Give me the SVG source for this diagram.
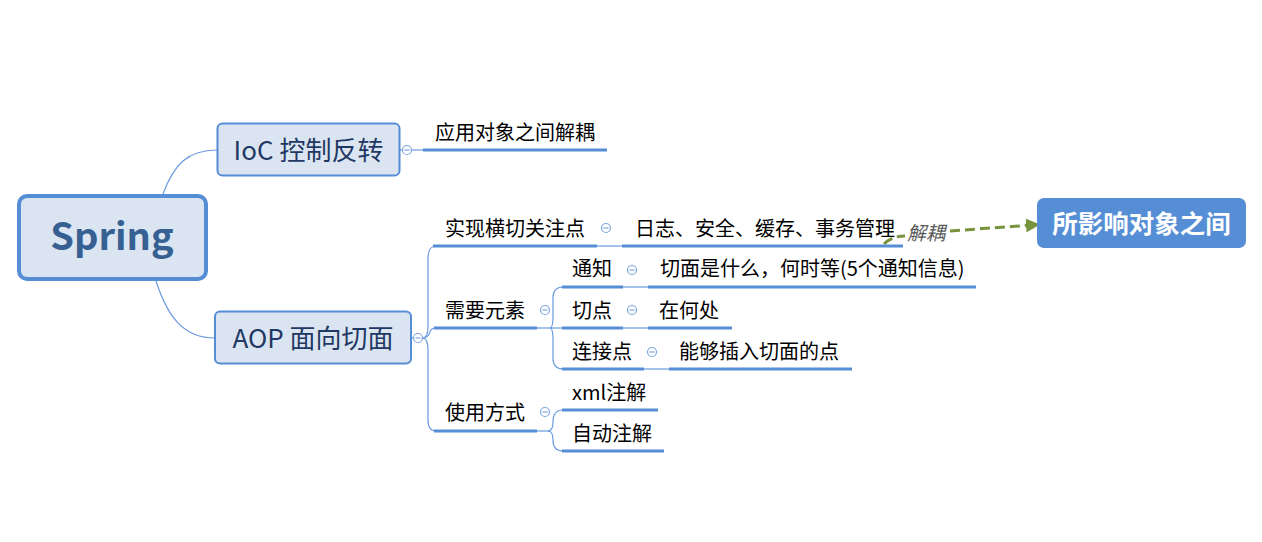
<svg xmlns="http://www.w3.org/2000/svg" width="1262" height="542" viewBox="0 0 1262 542">
<defs>
<style>
.t{font-family:"Noto Sans CJK SC","Liberation Sans",sans-serif;font-size:20px;fill:#000}
.ul{stroke:#558ed5;stroke-width:3;fill:none}
.ln{stroke:#6a9ae0;stroke-width:1.2;fill:none}
.col{fill:#fff;stroke:#7ea6e0;stroke-width:1.2}
.colm{stroke:#7ea6e0;stroke-width:1.2}
.box{fill:#dbe5f1;stroke:#558ed5}
.bt{font-family:"Noto Sans CJK SC","Liberation Sans",sans-serif;font-size:26px;fill:#1f3864;text-anchor:middle}
</style>
<marker id="ah" viewBox="0 0 14 14" refX="13" refY="7" markerWidth="14" markerHeight="14" markerUnits="userSpaceOnUse" orient="auto">
<path d="M0,0 L14,7 L0,14 Z" fill="#77933c"/>
</marker>
<g id="collapse">
<circle cx="0" cy="0" r="4.5" class="col"/>
<line x1="-2.5" y1="0" x2="2.5" y2="0" class="colm"/>
</g>
</defs>
<rect width="1262" height="542" fill="#fff"/>

<g id="connectors">
<path class="ln" d="M163,194 C174,164 188,150 217,150"/>
<path class="ln" d="M156,281 C168,318 184,338 215,338"/>
<path class="ln" d="M400,150 L402.5,150"/>
<path class="ln" d="M411.5,150 L423,150"/>
<path class="ln" d="M411,338 L413.5,338"/>
<path class="ln" d="M422.5,338 Q428,338 428,326 L428,258 Q428,246 436,246"/>
<path class="ln" d="M422.5,338 Q428,338 430,332 Q431,328 436,328"/>
<path class="ln" d="M422.5,338 Q428,338 428,350 L428,420 Q428,431 436,431"/>
<path class="ln" d="M597,246 L622,246"/>
<path class="ln" d="M537,328 L562,328"/>
<path class="ln" d="M550,328 Q553,328 553,316 L553,298 Q553,287 563,287"/>
<path class="ln" d="M550,328 Q553,328 553,340 L553,358 Q553,369 563,369"/>
<path class="ln" d="M537,431 L550,431"/>
<path class="ln" d="M548,431 Q553,431 553,422 Q553,410 563,410"/>
<path class="ln" d="M548,431 Q553,431 553,440 Q553,451 563,451"/>
<path class="ln" d="M623,287 L648,287"/>
<path class="ln" d="M623,328 L648,328"/>
<path class="ln" d="M644,369 L669,369"/>
<path d="M884,244 Q892,236 905,236" fill="none" stroke="#77933c" stroke-width="3" stroke-dasharray="10,5"/>
<path d="M950,231 L1039,224.5" fill="none" stroke="#77933c" stroke-width="3" stroke-dasharray="10,5" marker-end="url(#ah)"/>
<text x="907" y="240" font-family="Noto Sans CJK SC,Liberation Sans,sans-serif" font-size="19" font-style="italic" fill="#595959">解耦</text>
</g>

<g id="spring">
<rect x="19" y="196" width="187" height="83" rx="8" class="box" stroke-width="4"/>
<text x="112" y="250" font-family="Noto Sans CJK SC,Liberation Sans,sans-serif" font-size="38" font-weight="bold" fill="#376092" text-anchor="middle">Spring</text>
</g>

<g id="ioc">
<rect x="217.5" y="123.5" width="182" height="52" rx="5" class="box" stroke-width="2"/>
<text x="308.5" y="160" class="bt">IoC 控制反转</text>
<use href="#collapse" x="407" y="150"/>
</g>

<g id="aop">
<rect x="215" y="311.5" width="196" height="52" rx="5" class="box" stroke-width="2"/>
<text x="313" y="348" class="bt">AOP 面向切面</text>
<use href="#collapse" x="418" y="338"/>
</g>

<g id="decouple">
<line x1="423" y1="150" x2="607" y2="150" class="ul"/>
<text x="435" y="140" class="t">应用对象之间解耦</text>
</g>

<g id="crosscut">
<line x1="433" y1="246" x2="597" y2="246" class="ul"/>
<text x="445" y="236" class="t">实现横切关注点</text>
<use href="#collapse" x="606" y="228"/>
</g>

<g id="crosscut-items">
<line x1="622" y1="246" x2="903" y2="246" class="ul"/>
<text x="635" y="236" class="t">日志、安全、缓存、事务管理</text>
</g>

<g id="elements">
<line x1="434" y1="328" x2="537" y2="328" class="ul"/>
<text x="445" y="317.5" class="t">需要元素</text>
<use href="#collapse" x="545" y="310"/>
</g>

<g id="advice">
<line x1="562" y1="287" x2="623" y2="287" class="ul"/>
<text x="572" y="276" class="t">通知</text>
<use href="#collapse" x="632" y="270"/>
</g>
<g id="advice-desc">
<line x1="648" y1="287" x2="976" y2="287" class="ul"/>
<text x="660" y="276" class="t">切面是什么，何时等(5个通知信息)</text>
</g>

<g id="pointcut">
<line x1="562" y1="328" x2="623" y2="328" class="ul"/>
<text x="572" y="317.5" class="t">切点</text>
<use href="#collapse" x="632" y="310"/>
</g>
<g id="pointcut-desc">
<line x1="648" y1="328" x2="732" y2="328" class="ul"/>
<text x="659" y="317.5" class="t">在何处</text>
</g>

<g id="joinpoint">
<line x1="562" y1="369" x2="644" y2="369" class="ul"/>
<text x="572" y="358.5" class="t">连接点</text>
<use href="#collapse" x="652" y="352"/>
</g>
<g id="joinpoint-desc">
<line x1="669" y1="369" x2="852" y2="369" class="ul"/>
<text x="679" y="358.5" class="t">能够插入切面的点</text>
</g>

<g id="usage">
<line x1="434" y1="431" x2="537" y2="431" class="ul"/>
<text x="445" y="420" class="t">使用方式</text>
<use href="#collapse" x="545" y="412"/>
</g>

<g id="xml">
<line x1="562" y1="410" x2="658" y2="410" class="ul"/>
<text x="572" y="399.5" class="t">xml注解</text>
</g>

<g id="auto">
<line x1="562" y1="451" x2="664" y2="451" class="ul"/>
<text x="572" y="441" class="t">自动注解</text>
</g>

<g id="target">
<rect x="1037" y="198" width="209" height="50" rx="7" fill="#558ed5"/>
<text x="1141.5" y="233" font-family="Noto Sans CJK SC,Liberation Sans,sans-serif" font-size="25.5" font-weight="bold" fill="#fff" text-anchor="middle">所影响对象之间</text>
</g>
</svg>
